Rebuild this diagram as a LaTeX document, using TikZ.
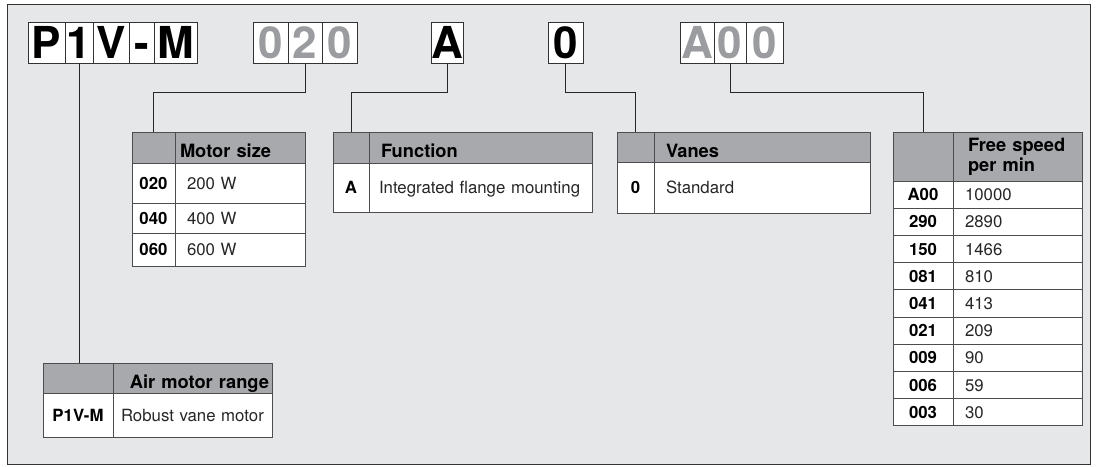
\documentclass[tikz,border=0pt]{standalone}
\usepackage{fontspec}
\setmainfont{TeX Gyre Heros}
\usetikzlibrary{positioning}
\definecolor{paper}{HTML}{E6E7E9}
\definecolor{headgray}{HTML}{A7A9AC}
\definecolor{codegray}{HTML}{9B9C9F}
\definecolor{rulegray}{HTML}{4D4D4F}

\begin{document}
\begin{tikzpicture}[x=1pt,y=-1pt,node distance=0pt]
  \tikzstyle{letter}=[draw=black!80,fill=white,line width=0.8pt,outer sep=0pt,inner sep=0pt,minimum height=41pt,text height=32pt,text depth=0pt,font=\fontsize{44}{44}\selectfont\bfseries]
  \tikzstyle{grey}=[text=codegray]
  \tikzstyle{khead}=[draw=rulegray,fill=headgray,line width=0.8pt,outer sep=0pt,inner sep=0pt,anchor=north west]
  \tikzstyle{vhead}=[draw=rulegray,fill=headgray,line width=0.8pt,outer sep=0pt,inner xsep=12pt,inner ysep=0pt,align=left,font=\fontsize{18.3}{20}\selectfont\bfseries]
  \tikzstyle{vheadlow}=[vhead,text height=20pt,text depth=0pt]
  \tikzstyle{key}=[draw=rulegray,fill=white,line width=0.8pt,outer sep=0pt,inner sep=0pt,text height=12pt,text depth=0pt,font=\fontsize{16.8}{20}\selectfont\bfseries]
  \tikzstyle{val}=[draw=rulegray,fill=white,line width=0.8pt,outer sep=0pt,inner xsep=12pt,inner ysep=0pt,align=left,text height=12pt,text depth=0pt,text=black!85,font=\fontsize{16.8}{20}\selectfont]
  \tikzstyle{link}=[draw=black!85,line width=0.8pt]

  \useasboundingbox (0,0) rectangle (1097,466);
  \draw[draw=black!80,fill=paper,line width=0.8pt] (7,4) rectangle (1090,464);

  % type code
  \node[letter,minimum width=37pt,anchor=north west] (cP) at (28,22) {P};
  \node[letter,minimum width=28pt,right=of cP] (c1) {1};
  \node[letter,minimum width=36pt,right=of c1] (cV) {V};
  \node[letter,minimum width=25pt,right=of cV] (cD) {-};
  \node[letter,minimum width=43pt,right=of cD] (cM) {M};
  \node[letter,grey,minimum width=35pt,anchor=north west] (s1) at (253,22) {0};
  \node[letter,grey,minimum width=34pt,right=of s1] (s2) {2};
  \node[letter,grey,minimum width=35pt,right=of s2] (s3) {0};
  \node[letter,minimum width=32pt,anchor=north west] (fA) at (431,22) {A};
  \node[letter,minimum width=35pt,anchor=north west] (v0) at (548,22) {0};
  \node[letter,grey,minimum width=34pt,anchor=north west] (r1) at (680,22) {A};
  \node[letter,grey,minimum width=32pt,right=of r1] (r2) {0};
  \node[letter,grey,minimum width=37pt,right=of r2] (r3) {0};

  % motor size
  \node[khead,minimum width=43pt,minimum height=31pt] (msz) at (132,132) {};
  \node[vheadlow,inner xsep=5pt,text width=120pt,minimum height=31pt,right=of msz] {Motor size};
  \node[key,minimum width=43pt,minimum height=40pt,below=of msz] (m1) {020};
  \node[val,text width=106pt,minimum height=40pt,right=of m1] {200 W};
  \node[key,minimum width=43pt,minimum height=30pt,below=of m1] (m2) {040};
  \node[val,text width=106pt,minimum height=30pt,right=of m2] {400 W};
  \node[key,minimum width=43pt,minimum height=33pt,below=of m2] (m3) {060};
  \node[val,text width=106pt,minimum height=33pt,right=of m3] {600 W};

  % function
  \node[khead,minimum width=36pt,minimum height=31pt] (fnc) at (333,132) {};
  \node[vheadlow,text width=199pt,minimum height=31pt,right=of fnc] {Function};
  \node[key,minimum width=36pt,minimum height=49pt,below=of fnc] (f1) {A};
  \node[val,inner xsep=10pt,text width=203pt,minimum height=49pt,right=of f1] {Integrated flange mounting};

  % vanes
  \node[khead,minimum width=37pt,minimum height=30pt] (van) at (617,132) {};
  \node[vheadlow,text width=192pt,minimum height=30pt,right=of van] {Vanes};
  \node[key,minimum width=37pt,minimum height=51pt,below=of van] (n1) {0};
  \node[val,text width=192pt,minimum height=51pt,right=of n1] {Standard};

  % free speed
  \node[khead,minimum width=60pt,minimum height=49pt] (spd) at (893,132) {};
  \node[vhead,inner xsep=15pt,text width=99pt,minimum height=49pt,right=of spd] {Free speed\\per min};
  \node[key,minimum width=60pt,minimum height=27.2pt,below=of spd] (p1) {A00};
  \node[val,text width=105pt,minimum height=27.2pt,right=of p1] {10000};
  \node[key,minimum width=60pt,minimum height=27.2pt,below=of p1] (p2) {290};
  \node[val,text width=105pt,minimum height=27.2pt,right=of p2] {2890};
  \node[key,minimum width=60pt,minimum height=27.2pt,below=of p2] (p3) {150};
  \node[val,text width=105pt,minimum height=27.2pt,right=of p3] {1466};
  \node[key,minimum width=60pt,minimum height=27.2pt,below=of p3] (p4) {081};
  \node[val,text width=105pt,minimum height=27.2pt,right=of p4] {810};
  \node[key,minimum width=60pt,minimum height=27.2pt,below=of p4] (p5) {041};
  \node[val,text width=105pt,minimum height=27.2pt,right=of p5] {413};
  \node[key,minimum width=60pt,minimum height=27.2pt,below=of p5] (p6) {021};
  \node[val,text width=105pt,minimum height=27.2pt,right=of p6] {209};
  \node[key,minimum width=60pt,minimum height=27.2pt,below=of p6] (p7) {009};
  \node[val,text width=105pt,minimum height=27.2pt,right=of p7] {90};
  \node[key,minimum width=60pt,minimum height=27.2pt,below=of p7] (p8) {006};
  \node[val,text width=105pt,minimum height=27.2pt,right=of p8] {59};
  \node[key,minimum width=60pt,minimum height=27.2pt,below=of p8] (p9) {003};
  \node[val,text width=105pt,minimum height=27.2pt,right=of p9] {30};

  % air motor range
  \node[khead,minimum width=70pt,minimum height=30pt] (air) at (43,363) {};
  \node[vheadlow,align=right,inner xsep=3pt,text width=153pt,minimum height=30pt,right=of air] {Air motor range};
  \node[key,minimum width=70pt,minimum height=44pt,below=of air] (a1) {P1V-M};
  \node[val,inner xsep=8pt,text width=143pt,minimum height=44pt,right=of a1] {Robust vane motor};

  % connectors
  \coordinate (bus) at (0,92);
  \draw[link] (c1.south) -- (c1.south |- air.north);
  \draw[link] (s2.south) |- (bus -| msz.north) -- (msz.north);
  \draw[link] (fA.south) |- (bus -| fnc.north) -- (fnc.north);
  \draw[link] (v0.south) |- (bus -| van.north) -- (van.north);
  \draw[link] (r2.south) |- (bus -| spd.north) -- (spd.north);
\end{tikzpicture}
\end{document}
